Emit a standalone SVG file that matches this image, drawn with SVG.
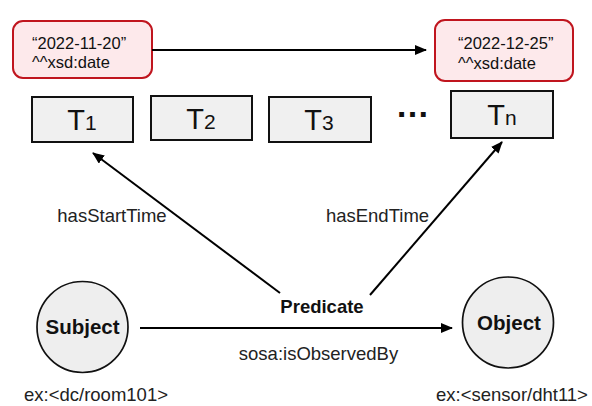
<svg xmlns="http://www.w3.org/2000/svg" width="592" height="406" viewBox="0 0 592 406">
<defs>
<marker id="arr" viewBox="0 0 12 10" refX="11" refY="5" markerWidth="12" markerHeight="10" markerUnits="userSpaceOnUse" orient="auto">
<path d="M0,0 L12,5 L0,10 Z" fill="#000"/>
</marker>
<style>
.lit rect{fill:#fde9eb;stroke:#c0151e;stroke-width:2}
.lit text{font-family:"Liberation Sans",Arial,sans-serif;font-size:16.5px;fill:#111}
.tb rect{fill:#f0f0f0;stroke:#111;stroke-width:2}
.tb text{font-family:"Liberation Sans",Arial,sans-serif;font-size:29px;fill:#111;text-anchor:middle}
.tb tspan.s{font-size:21px}
.res circle{fill:#eeeeee;stroke:#111;stroke-width:1.7}
.res text{font-family:"Liberation Sans",Arial,sans-serif;font-size:20.5px;font-weight:bold;fill:#111;text-anchor:middle}
.lbl{font-family:"Liberation Sans",Arial,sans-serif;font-size:18.5px;fill:#222}
.bold{font-weight:bold;fill:#111}
.conn line{stroke:#000;stroke-width:2;fill:none;marker-end:url(#arr)}
</style>
</defs>
<rect width="592" height="406" fill="#fff"/>
<g id="start-date" class="lit">
<rect x="13" y="21" width="139" height="57" rx="10"/>
<text x="32" y="49">“2022-11-20”</text>
<text x="32" y="68">^^xsd:date</text>
</g>
<g id="end-date" class="lit">
<rect x="435" y="20" width="138" height="61" rx="10"/>
<text x="458" y="49">“2022-12-25”</text>
<text x="458" y="69">^^xsd:date</text>
</g>
<g id="t1" class="tb">
<rect x="32" y="97" width="101" height="45"/>
<text x="82" y="130">T<tspan class="s">1</tspan></text>
</g>
<g id="t2" class="tb">
<rect x="151" y="96" width="101" height="44"/>
<text x="201" y="129">T<tspan class="s">2</tspan></text>
</g>
<g id="t3" class="tb">
<rect x="269" y="97" width="102" height="45"/>
<text x="319" y="130">T<tspan class="s">3</tspan></text>
</g>
<g id="ellipsis">
<text x="412.5" y="117" font-family="Liberation Sans,Arial,sans-serif" font-size="34" font-weight="bold" text-anchor="middle" fill="#111">…</text>
</g>
<g id="tn" class="tb">
<rect x="451" y="91" width="102" height="47"/>
<text x="502" y="125">T<tspan class="s">n</tspan></text>
</g>
<g id="subject" class="res">
<circle cx="82.5" cy="327" r="45.5"/>
<text x="82.5" y="334">Subject</text>
</g>
<g id="object" class="res">
<circle cx="508" cy="322.5" r="45.5"/>
<text x="509" y="330">Object</text>
</g>
<g id="connectors" class="conn">
<line x1="152" y1="50" x2="426" y2="50"/>
<line x1="140" y1="328" x2="452" y2="328"/>
<line x1="280" y1="293" x2="93" y2="153"/>
<line x1="370" y1="295" x2="502" y2="142"/>
</g>
<g id="labels">
<text class="lbl bold" x="322" y="313" font-size="21" text-anchor="middle">Predicate</text>
<text class="lbl" x="318.5" y="360" text-anchor="middle">sosa:isObservedBy</text>
<text class="lbl" x="112" y="222" text-anchor="middle">hasStartTime</text>
<text class="lbl" x="377.5" y="222" text-anchor="middle">hasEndTime</text>
<text class="lbl" x="96" y="401" text-anchor="middle">ex:&lt;dc/room101&gt;</text>
<text class="lbl" x="512" y="401" text-anchor="middle">ex:&lt;sensor/dht11&gt;</text>
</g>
</svg>
